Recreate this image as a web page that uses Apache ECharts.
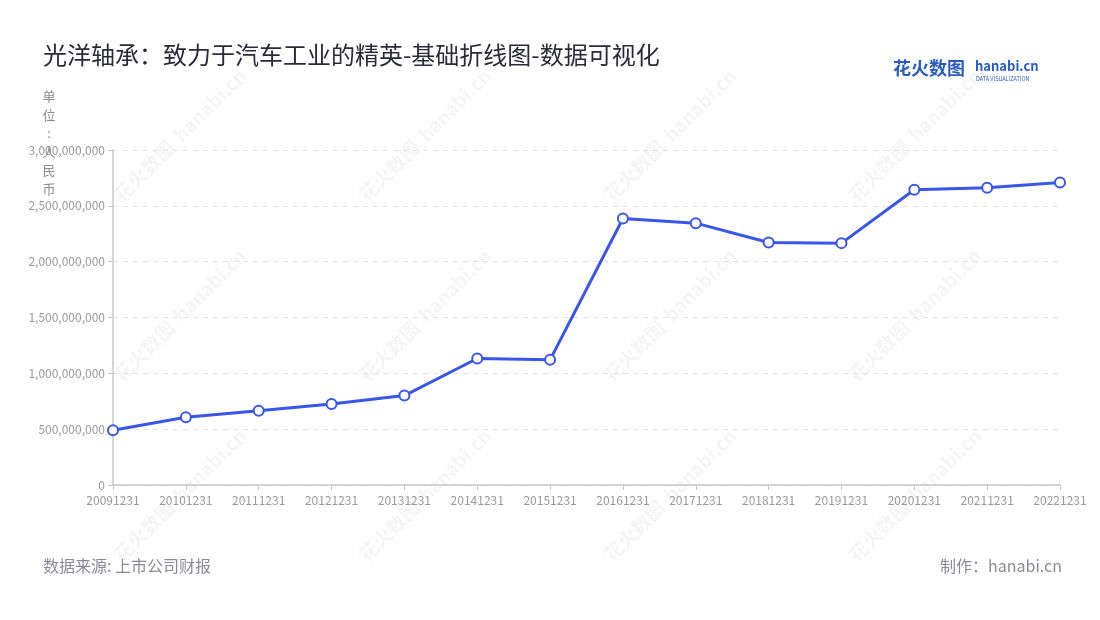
<!DOCTYPE html>
<html>
<head>
<meta charset="utf-8">
<script src="https://cdn.jsdelivr.net/npm/echarts@6/dist/echarts.min.js"></script>
<style>
  html, body { margin: 0; padding: 0; background: #fff; }
  #chart { width: 1100px; height: 620px; }
</style>
</head>
<body>
<div id="chart"></div>
<script>
// 报告期
const periods = ['20091231', '20101231', '20111231', '20121231', '20131231', '20141231', '20151231',
  '20161231', '20171231', '20181231', '20191231', '20201231', '20211231', '20221231'];
// 数值 (人民币)
const values = [490000000, 607000000, 664000000, 726000000, 801000000, 1133000000, 1121000000,
  2387000000, 2345000000, 2171000000, 2166000000, 2644000000, 2662000000, 2710000000];
const yTicks = { min: 0, max: 3000000000, interval: 500000000 };

const font = '"Noto Sans CJK SC", "Noto Sans", sans-serif';

// 水印
const marks = [];
[135, 315, 495].forEach(function (cy) {
  [180, 425, 670, 915].forEach(function (cx) {
    marks.push({
      type: 'text', x: cx, y: cy, rotation: Math.PI / 4, silent: true, z: 0,
      style: {
        text: '花火数图  hanabi.cn', fill: 'rgba(0,0,0,0.045)',
        font: 'bold 19px ' + font, align: 'center', verticalAlign: 'middle'
      }
    });
  });
});

const chart = echarts.init(document.getElementById('chart'));
chart.setOption({
  backgroundColor: '#fff',
  textStyle: { fontFamily: font },
  title: {
    text: '光洋轴承：致力于汽车工业的精英-基础折线图-数据可视化',
    left: 38, top: 38,
    textStyle: { fontSize: 24, fontWeight: 'normal', color: '#2b2b38', fontFamily: font }
  },
  grid: { left: 113, right: 40, top: 150, bottom: 135 },
  xAxis: {
    type: 'category',
    data: periods,
    boundaryGap: false,
    axisLine: { lineStyle: { color: '#c8c8c8', width: 1.5 } },
    axisTick: { lineStyle: { color: '#c8c8c8' } },
    axisLabel: { color: '#999', fontSize: 12, margin: 9, fontFamily: font }
  },
  yAxis: {
    type: 'value',
    min: yTicks.min, max: yTicks.max, interval: yTicks.interval,
    axisLine: { show: true, lineStyle: { color: '#c8c8c8', width: 1.5 } },
    axisTick: { show: true, lineStyle: { color: '#c8c8c8' } },
    axisLabel: {
      color: '#999', fontSize: 12, fontFamily: font,
      formatter: function (v) { return v.toLocaleString('en-US'); }
    },
    splitLine: { lineStyle: { color: '#e2e2e2', type: [5, 5] } }
  },
  series: [{
    type: 'line',
    data: values,
    symbol: 'emptyCircle',
    symbolSize: 10,
    lineStyle: { color: '#3a56e8', width: 3 },
    itemStyle: { color: '#3a56e8', borderWidth: 2, borderColor: '#3a56e8' },
    z: 3
  }],
  graphic: marks.concat([
    {
      type: 'text', x: 49, y: 87, z: 5,
      style: {
        text: '单\n位\n:\n人\n民\n币', fill: '#8a8a96', font: '13px ' + font,
        lineHeight: 18.5, align: 'center', verticalAlign: 'top'
      }
    },
    {
      type: 'text', left: 893, top: 59, z: 5,
      style: { text: '花火数图', fill: '#2a5cc0', font: 'bold 18px ' + font }
    },
    {
      type: 'text', left: 975, top: 60, z: 5,
      style: { text: 'hanabi.cn', fill: '#2a5cc0', font: 'bold 13px ' + font }
    },
    {
      type: 'text', left: 976, top: 76, z: 5,
      style: { text: 'DATA VISUALIZATION', fill: '#2a5cc0', font: '5.5px ' + font }
    },
    {
      type: 'text', left: 43, top: 558,
      style: { text: '数据来源: 上市公司财报', fill: '#8a8a96', font: '16px ' + font }
    },
    {
      type: 'text', right: 38, top: 558,
      style: { text: '制作：hanabi.cn', fill: '#8a8a96', font: '16px ' + font }
    }
  ])
});
</script>
</body>
</html>
